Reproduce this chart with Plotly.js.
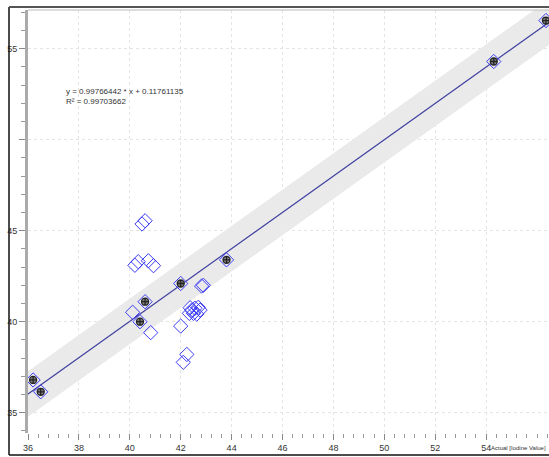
<!DOCTYPE html>
<html>
<head>
<meta charset="utf-8">
<script src="https://cdn.plot.ly/plotly-3.0.1.min.js"></script>
<style>html,body{margin:0;padding:0;background:#fff;}#chart{width:549px;height:457px;}</style>
</head>
<body>
<div id="chart"></div>
<script>
// Regression shown on the chart
const slope = 0.99766442;
const intercept = 0.11761135;
const r2 = 0.99703662;
const fitX = [35.5, 57];
const bandHalfWidth = 1.25;

// Calibration (training) points: actual vs predicted
const trainActual = [36.2, 36.5, 40.4, 40.6, 42.0, 43.8, 54.3, 56.35];
const trainPred   = [36.8, 36.15, 40.0, 41.1, 42.1, 43.4, 54.3, 56.55];

// Validation points: actual vs predicted
const testActual = [40.48, 40.6, 40.2, 40.33, 40.73, 40.93, 40.11, 40.82, 42.0, 42.1, 42.24, 42.82, 42.89, 42.37, 42.43, 42.56, 42.69, 42.76, 42.5, 42.63, 42.34];
const testPred   = [45.37, 45.55, 43.1, 43.3, 43.35, 43.08, 40.52, 39.4, 39.76, 37.77, 38.2, 41.96, 42.0, 40.77, 40.64, 40.74, 40.79, 40.64, 40.46, 40.42, 40.46];

// Axis ticks
const xTicks = [36, 38, 40, 42, 44, 46, 48, 50, 52, 54];
const xTickText = ['36', '38', '40', '42', '44', '46', '48', '50', '52', '54'];
const yTicks = [35, 40, 45, 50, 55];
const yTickText = ['35', '40', '45', '', '55'];
const xTitle = 'Actual [Iodine Value]';

const fitY = fitX.map(x => slope * x + intercept);
const upper = fitY.map(y => y + bandHalfWidth);
const lower = fitY.map(y => y - bandHalfWidth);

const blue = '#3b3bf5';
const fam = '"Liberation Sans", Arial, sans-serif';
const traces = [
  {x: fitX, y: lower, mode: 'lines', line: {width: 0}, hoverinfo: 'skip', showlegend: false},
  {x: fitX, y: upper, mode: 'lines', line: {width: 0}, fill: 'tonexty', fillcolor: '#eaeaea', hoverinfo: 'skip', showlegend: false},
  {x: fitX, y: fitY, mode: 'lines', line: {color: '#4040a0', width: 1.2}, showlegend: false},
  {x: testActual, y: testPred, mode: 'markers', showlegend: false,
   marker: {symbol: 'diamond-open', size: 11, color: blue, line: {width: 1, color: blue}}},
  {x: trainActual, y: trainPred, mode: 'markers', showlegend: false,
   marker: {symbol: 'diamond-open', size: 11, color: blue, line: {width: 1, color: blue}}},
  {x: trainActual, y: trainPred, mode: 'markers', showlegend: false,
   marker: {symbol: 'circle-cross', size: 7, color: '#808080', line: {width: 1.3, color: '#222'}}}
];

const L = 28, B = 24, T = 10, W = 549, H = 457;
const pw = W - L, ph = H - B - T;
const px = v => (v - L) / pw;
const py = v => (H - B - v) / ph;

const layout = {
  width: W, height: H,
  margin: {l: L, r: 0, t: T, b: B, pad: 0},
  paper_bgcolor: '#fff', plot_bgcolor: '#fff',
  font: {family: fam, size: 9, color: '#333'},
  showlegend: false,
  xaxis: {
    range: [36, 56.47], tickmode: 'array', tickvals: xTicks, ticktext: xTickText,
    ticks: 'outside', ticklen: 6, tickcolor: '#888', tickwidth: 1,
    showgrid: true, gridcolor: '#e4e4e4', griddash: 'dot', gridwidth: 1,
    zeroline: false, showline: false,
    minor: {dtick: 0.4, tick0: 36, ticks: 'outside', ticklen: 4, tickcolor: '#999', showgrid: false},
    tickfont: {size: 9, color: '#333', family: fam}
  },
  yaxis: {
    range: [33.885, 57.13], tickmode: 'array', tickvals: yTicks, ticktext: yTickText,
    ticks: 'outside', ticklen: 6, tickcolor: '#888', tickwidth: 1,
    showgrid: true, gridcolor: '#e4e4e4', griddash: 'dot', gridwidth: 1,
    zeroline: false, showline: true, linecolor: '#aaa', linewidth: 3,
    minor: {dtick: 1, tick0: 35, ticks: 'outside', ticklen: 4, tickcolor: '#999', showgrid: false},
    tickfont: {size: 9, color: '#333', family: fam}
  },
  annotations: [
    {xref: 'paper', yref: 'paper', x: px(64), y: py(85), xanchor: 'left', yanchor: 'top', align: 'left',
     showarrow: false, text: 'y = ' + slope + ' * x + ' + intercept + '<br>R² = ' + r2,
     font: {size: 8, color: '#333', family: fam}},
    {xref: 'paper', yref: 'paper', x: px(548), y: py(448), xanchor: 'right', yanchor: 'middle',
     showarrow: false, text: xTitle, font: {size: 6, color: '#333', family: fam}}
  ],
  shapes: [
    {type: 'line', xref: 'paper', yref: 'paper', x0: px(9), x1: px(9), y0: py(455), y1: py(7), line: {color: '#111', width: 1.5}},
    {type: 'line', xref: 'paper', yref: 'paper', x0: px(9), x1: px(552), y0: py(455), y1: py(455), line: {color: '#111', width: 1.5}},
    {type: 'line', xref: 'paper', yref: 'paper', x0: px(9), x1: px(552), y0: py(7), y1: py(7), line: {color: '#555', width: 2}},
    {type: 'line', xref: 'paper', yref: 'paper', x0: px(28), x1: px(552), y0: py(10), y1: py(10), line: {color: '#bbb', width: 1}}
  ]
};

Plotly.newPlot('chart', traces, layout, {displayModeBar: false, staticPlot: true});
</script>
</body>
</html>
